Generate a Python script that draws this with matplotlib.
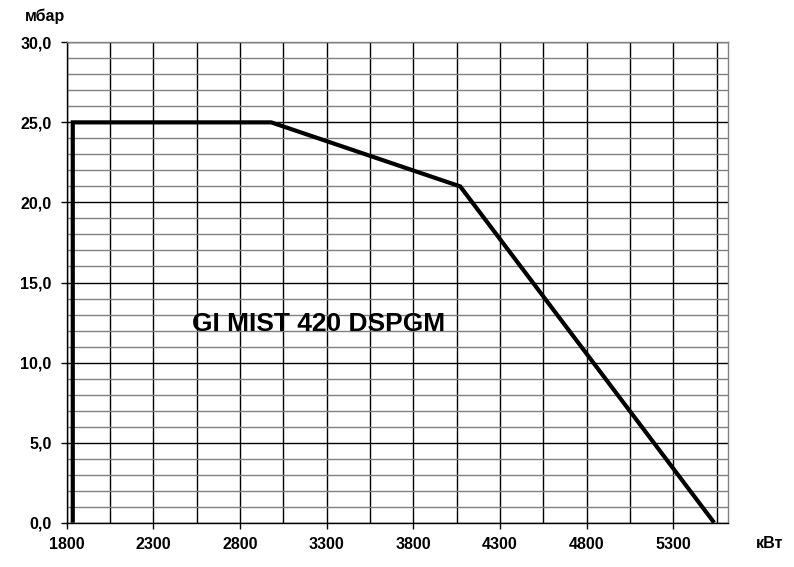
import matplotlib
matplotlib.use("Agg")
import matplotlib.pyplot as plt
from matplotlib.ticker import MultipleLocator, FuncFormatter, FixedLocator

plt.rcParams['font.family'] = ['Liberation Sans', 'DejaVu Sans']

# Data
power_kw = [1835, 1835, 2980, 4070, 5535]
pressure_mbar = [0, 25, 25, 21, 0]
x_ticks = [1800, 2300, 2800, 3300, 3800, 4300, 4800, 5300]
y_ticks = [0, 5, 10, 15, 20, 25, 30]
title_text = "GI MIST 420 DSPGM"
y_unit = "мбар"
x_unit = "кВт"

W, H = 794, 567
fig = plt.figure(figsize=(W / 100, H / 100), dpi=100)
left, right, top, bottom = 66.7, 727.7, 42.3, 522.7
ax = fig.add_axes([left / W, 1 - bottom / H, (right - left) / W, (bottom - top) / H])

ax.set_xlim(1800, 5613)
ax.set_ylim(0, 30)

# grid
ax.xaxis.set_major_locator(FixedLocator(x_ticks))
ax.xaxis.set_minor_locator(MultipleLocator(250, offset=50))
ax.yaxis.set_major_locator(FixedLocator(y_ticks))
ax.yaxis.set_minor_locator(MultipleLocator(1))
ax.yaxis.set_major_formatter(FuncFormatter(lambda v, p: f"{v:.1f}".replace('.', ',')))

ax.grid(which='minor', axis='y', color='#808080', linewidth=1.0)
ax.grid(which='major', axis='y', color='black', linewidth=1.0)
ax.grid(which='both', axis='x', color='black', linewidth=1.0)
ax.set_axisbelow(True)

ax.tick_params(axis='both', which='major', direction='out', length=4, width=1,
               color='black', labelsize=11.5)
ax.tick_params(axis='y', which='major', pad=7)
ax.tick_params(axis='x', which='major', pad=6)
ax.tick_params(axis='both', which='minor', length=0)
for lab in ax.get_xticklabels() + ax.get_yticklabels():
    lab.set_fontweight('bold')

for s in ['left', 'bottom']:
    ax.spines[s].set_color('black')
    ax.spines[s].set_linewidth(1.0)
for s in ['right', 'top']:
    ax.spines[s].set_color('#808080')
    ax.spines[s].set_linewidth(1.0)

ax.plot(power_kw, pressure_mbar, color='black', linewidth=3.0,
        solid_joinstyle='miter', solid_capstyle='butt', clip_on=False, zorder=5)

ax.text(3250, 12.0, title_text, ha='center', va='baseline',
        fontsize=19, fontweight='bold', color='black', zorder=6)

fig.text(25 / W, 1 - 21 / H, y_unit, ha='left', va='baseline',
         fontsize=11.5, fontweight='bold')
fig.text(756 / W, 1 - 548 / H, x_unit, ha='left', va='baseline',
         fontsize=11.5, fontweight='bold')

fig.savefig("out.png", dpi=100)
